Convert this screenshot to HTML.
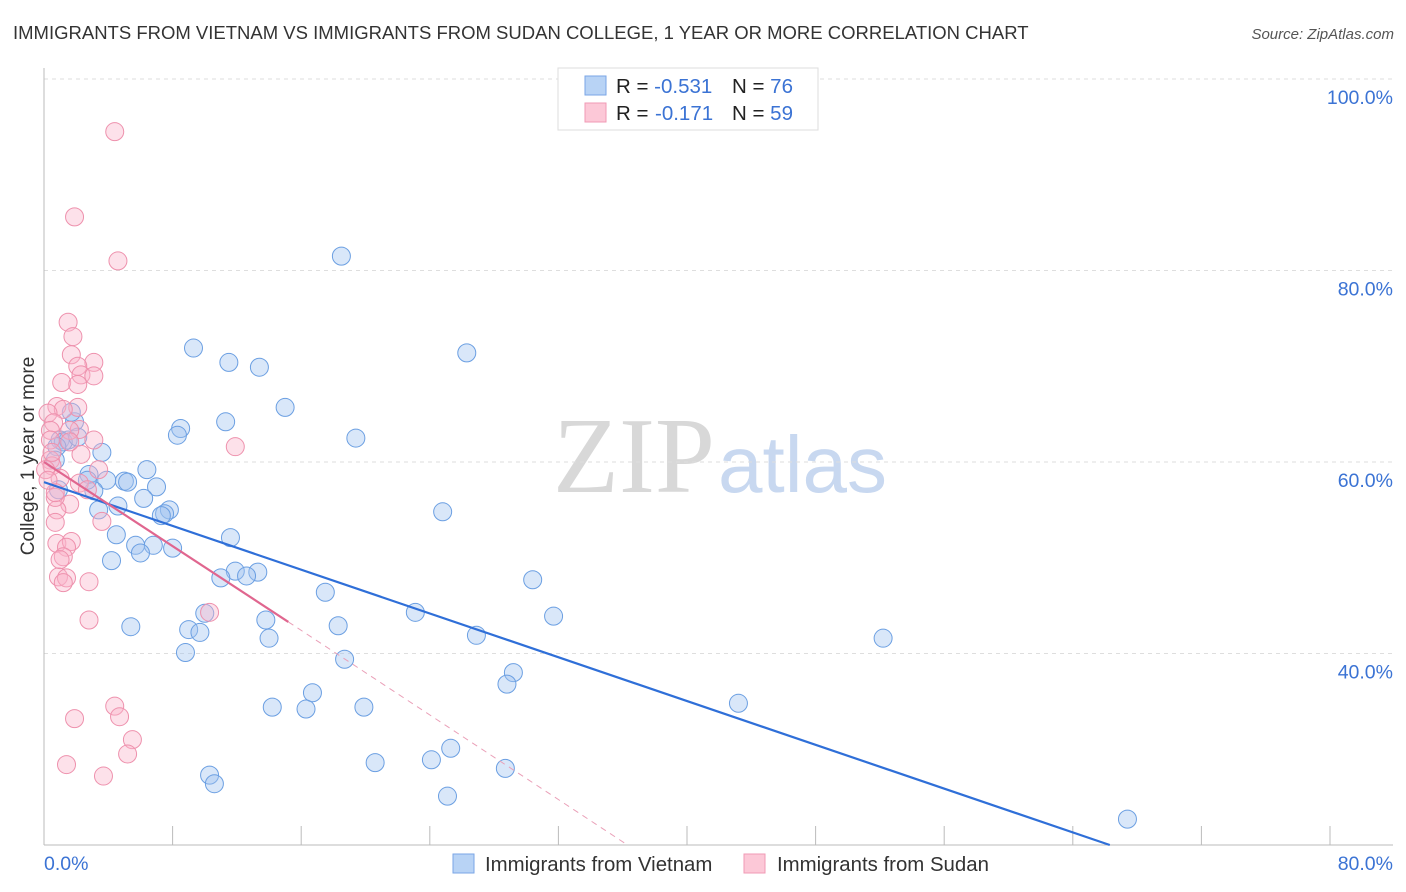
<!DOCTYPE html>
<html><head><meta charset="utf-8"><style>
body{margin:0;background:#fff;font-family:"Liberation Sans",sans-serif}
svg{display:block}
</style></head><body>
<svg id="chart" width="1406" height="892" xmlns="http://www.w3.org/2000/svg">
<text x="13" y="39" font-size="18.5" fill="#333">IMMIGRANTS FROM VIETNAM VS IMMIGRANTS FROM SUDAN COLLEGE, 1 YEAR OR MORE CORRELATION CHART</text>
<text x="1394" y="39" font-size="15" fill="#555" font-style="italic" text-anchor="end">Source: ZipAtlas.com</text>
<g>
<text x="553" y="492" font-family="Liberation Serif,serif" font-size="108" fill="#d8d8d8">ZIP</text>
<text x="718" y="492" font-size="80" fill="#c8d8f0">atlas</text>
</g>
<g id="grid"></g>
<g id="axes"></g>
<text transform="translate(34,456) rotate(-90)" font-size="19" fill="#333" text-anchor="middle">College, 1 year or more</text>
<g id="marks"></g>
<g>
<rect x="558" y="68" width="260" height="62" fill="#fff" stroke="#ddd"/>
<rect x="585" y="76" width="21" height="19" fill="#b8d3f5" stroke="#7aa6e6"/>
<rect x="585" y="103" width="21" height="19" fill="#fcc8d7" stroke="#f09ab4"/>
<text x="616" y="93" font-size="20.5" fill="#222">R = <tspan fill="#3b73d4">-0.531</tspan><tspan x="732">N = </tspan><tspan fill="#3b73d4">76</tspan></text>
<text x="616" y="120" font-size="20.5" fill="#222">R = <tspan fill="#3b73d4" x="655">-0.171</tspan><tspan x="732">N = </tspan><tspan fill="#3b73d4">59</tspan></text>
</g>
<g>
<rect x="453" y="854" width="21" height="19" fill="#b8d3f5" stroke="#7aa6e6"/>
<text x="485" y="871" font-size="20.4" fill="#333">Immigrants from Vietnam</text>
<rect x="744" y="854" width="21" height="19" fill="#fcc8d7" stroke="#f09ab4"/>
<text x="777" y="871" font-size="20.4" fill="#333">Immigrants from Sudan</text>
</g>
</svg>
<script>
const yTicks=[40,60,80,100];
const yTickLabels=["40.0%","60.0%","80.0%","100.0%"];
const xTickCount=10;
const xEndLabels=["0.0%","80.0%"];
const vietnamX=[18.5,9.3,11.5,13.4,26.3,15.0,11.3,8.5,8.3,19.4,3.6,6.4,5.0,3.9,2.8,7.0,6.2,5.2,7.8,7.5,7.3,24.8,3.4,4.6,11.6,4.5,5.7,6.8,6.0,8.0,4.2,11.9,13.3,12.6,11.0,30.4,17.5,10.0,23.1,31.7,13.8,5.4,9.0,9.7,18.3,26.9,14.0,52.2,8.8,18.7,29.2,28.8,16.7,43.2,14.2,16.3,19.9,25.3,20.6,24.1,28.7,10.3,10.6,25.1,67.4,1.0,1.5,1.2,0.8,1.9,2.1,1.7,0.7,0.9,3.1,2.7];
const vietnamY=[81.5,71.9,70.4,69.9,71.4,65.7,64.2,63.5,62.8,62.5,61.0,59.2,58.0,58.1,58.7,57.4,56.2,57.9,55.0,54.6,54.4,54.8,55.0,55.4,52.1,52.4,51.3,51.3,50.5,51.0,49.7,48.6,48.5,48.1,47.9,47.7,46.4,44.2,44.3,43.9,43.5,42.8,42.5,42.2,42.9,41.9,41.6,41.6,40.1,39.4,38.0,36.8,35.9,34.8,34.4,34.2,34.4,30.1,28.6,28.9,28.0,27.3,26.4,25.1,22.7,62.3,62.3,62.1,61.6,64.2,62.6,65.2,60.2,57.1,57.0,58.1];
const sudanX=[4.4,1.9,4.6,1.5,1.8,1.7,3.1,2.1,2.3,3.1,1.1,2.1,0.8,2.1,1.2,0.25,0.6,0.4,3.1,2.2,1.6,11.9,2.3,0.4,0.5,1.0,2.2,2.7,1.6,0.8,0.7,0.8,1.7,1.4,1.2,3.6,0.9,1.4,1.2,2.8,10.3,2.8,4.4,1.9,4.7,5.5,5.2,1.4,3.7,0.4,0.5,0.1,0.7,1.0,0.7,3.4,1.6,0.25];
const sudanY=[94.5,85.6,81.0,74.6,73.1,71.2,70.4,70.0,69.1,69.0,68.3,68.1,65.8,65.7,65.5,65.1,64.1,63.3,62.3,63.4,63.3,61.6,60.8,60.2,59.6,58.3,57.8,57.1,55.6,55.0,53.7,51.5,51.7,51.1,50.1,53.8,48.0,47.9,47.4,47.5,44.3,43.5,34.5,33.2,33.4,31.0,29.5,28.4,27.2,62.3,61.0,59.2,56.3,49.8,56.8,59.2,62.1,58.1];
const vietnamTrend=[[0,57.9],[66.3,20]];
const sudanTrendSolid=[[0,60.0],[15.2,43.3]];
const sudanTrendDashed=[[15.2,43.3],[36.3,20]];
const NS="http://www.w3.org/2000/svg";
const X=v=>44+v/80*1286;
const Y=v=>845-(v-20)*9.575;
function mk(tag,parent,attrs){const e=document.createElementNS(NS,tag);for(const k in attrs)e.setAttribute(k,attrs[k]);parent.appendChild(e);return e;}
const grid=document.getElementById('grid'),axes=document.getElementById('axes'),marks=document.getElementById('marks');
yTicks.forEach((t,i)=>{
 const l=mk('line',grid,{x1:44,x2:1393,y1:Y(t),y2:Y(t),stroke:'#dedede','stroke-dasharray':'4,4'});
 
 
 const tx=mk('text',axes,{x:1393,y:Y(t)+25,'font-size':19.5,fill:'#3b73d4','text-anchor':'end'});
 tx.textContent=yTickLabels[i];
 
 
});
const ya=mk('line',axes,{x1:44,x2:44,y1:68,y2:845,stroke:'#bbb'});


const xa=mk('line',axes,{x1:44,x2:1393,y1:845,y2:845,stroke:'#bbb'});


for(let i=0;i<=xTickCount;i++){
 const v=i*80/xTickCount;
 const t=mk('line',axes,{x1:X(v),x2:X(v),y1:826,y2:845,stroke:'#bbb'});
 
 
}
const xl0=mk('text',axes,{x:44,y:870,'font-size':19.5,fill:'#3b73d4'});
xl0.textContent=xEndLabels[0];


const xl1=mk('text',axes,{x:1393,y:870,'font-size':19.5,fill:'#3b73d4','text-anchor':'end'});
xl1.textContent=xEndLabels[1];


vietnamX.forEach((x,i)=>{
 const c=mk('circle',marks,{cx:X(x),cy:Y(vietnamY[i]),r:9,fill:'rgba(160,196,240,0.4)',stroke:'#6b9fe2','stroke-width':1});
 
 
});
sudanX.forEach((x,i)=>{
 const c=mk('circle',marks,{cx:X(x),cy:Y(sudanY[i]),r:9,fill:'rgba(250,180,202,0.4)',stroke:'#ee91ad','stroke-width':1});
 
 
});
const t1=mk('line',marks,{x1:X(vietnamTrend[0][0]),y1:Y(vietnamTrend[0][1]),x2:X(vietnamTrend[1][0]),y2:Y(vietnamTrend[1][1]),stroke:'#2f6fd8','stroke-width':2.2});


const t2=mk('line',marks,{x1:X(sudanTrendSolid[0][0]),y1:Y(sudanTrendSolid[0][1]),x2:X(sudanTrendSolid[1][0]),y2:Y(sudanTrendSolid[1][1]),stroke:'#e0668f','stroke-width':2.2});


const t3=mk('line',marks,{x1:X(sudanTrendDashed[0][0]),y1:Y(sudanTrendDashed[0][1]),x2:X(sudanTrendDashed[1][0]),y2:Y(sudanTrendDashed[1][1]),stroke:'#eaa0b8','stroke-width':1,'stroke-dasharray':'6,5'});


</script>
</body></html>
